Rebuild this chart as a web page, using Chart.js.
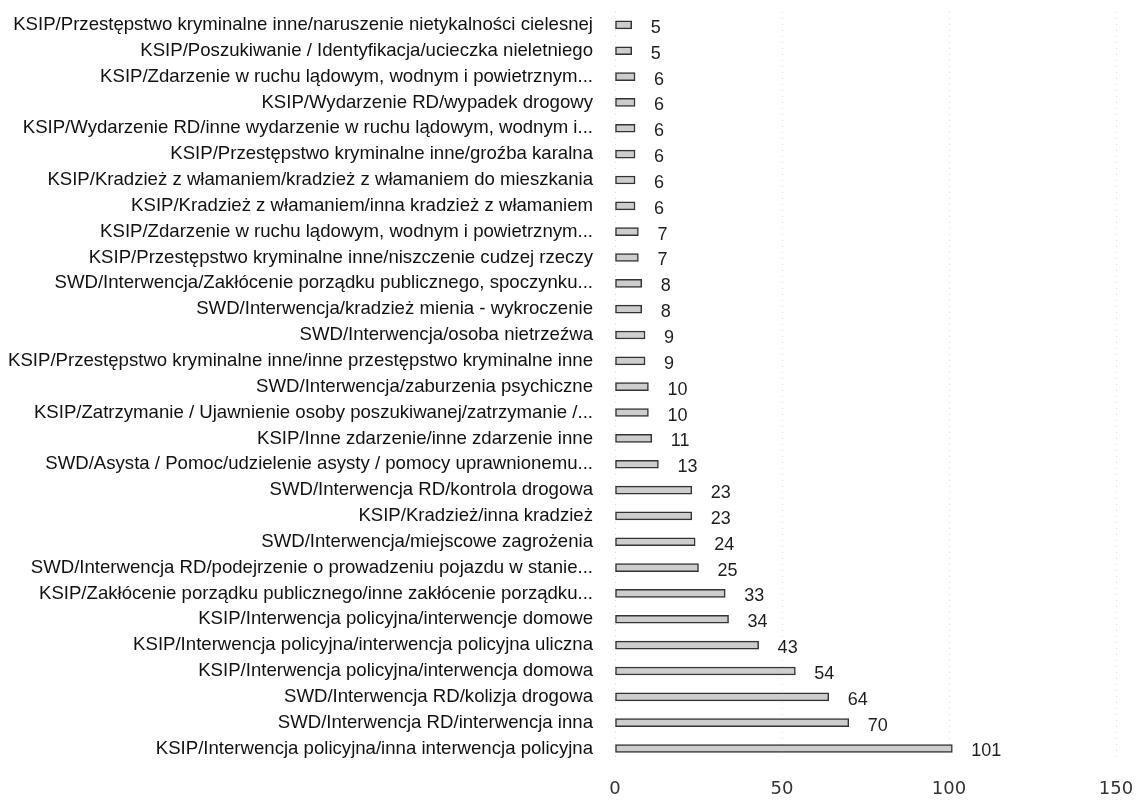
<!DOCTYPE html>
<html>
<head>
<meta charset="utf-8">
<script src="https://cdn.jsdelivr.net/npm/chart.js@4/dist/chart.umd.min.js"></script>
<style>
  html, body { margin: 0; padding: 0; background: #fff; }
  #wrap { width: 1137px; height: 804px; }
</style>
</head>
<body>
<div id="wrap"><canvas id="c" width="1137" height="804"></canvas></div>
<script>
const categories = [
  "KSIP/Przestępstwo kryminalne inne/naruszenie nietykalności cielesnej",
  "KSIP/Poszukiwanie / Identyfikacja/ucieczka nieletniego",
  "KSIP/Zdarzenie w ruchu lądowym, wodnym i powietrznym...",
  "KSIP/Wydarzenie RD/wypadek drogowy",
  "KSIP/Wydarzenie RD/inne wydarzenie w ruchu lądowym, wodnym i...",
  "KSIP/Przestępstwo kryminalne inne/groźba karalna",
  "KSIP/Kradzież z włamaniem/kradzież z włamaniem do mieszkania",
  "KSIP/Kradzież z włamaniem/inna kradzież z włamaniem",
  "KSIP/Zdarzenie w ruchu lądowym, wodnym i powietrznym...",
  "KSIP/Przestępstwo kryminalne inne/niszczenie cudzej rzeczy",
  "SWD/Interwencja/Zakłócenie porządku publicznego, spoczynku...",
  "SWD/Interwencja/kradzież mienia - wykroczenie",
  "SWD/Interwencja/osoba nietrzeźwa",
  "KSIP/Przestępstwo kryminalne inne/inne przestępstwo kryminalne inne",
  "SWD/Interwencja/zaburzenia psychiczne",
  "KSIP/Zatrzymanie / Ujawnienie osoby poszukiwanej/zatrzymanie /...",
  "KSIP/Inne zdarzenie/inne zdarzenie inne",
  "SWD/Asysta / Pomoc/udzielenie asysty / pomocy uprawnionemu...",
  "SWD/Interwencja RD/kontrola drogowa",
  "KSIP/Kradzież/inna kradzież",
  "SWD/Interwencja/miejscowe zagrożenia",
  "SWD/Interwencja RD/podejrzenie o prowadzeniu pojazdu w stanie...",
  "KSIP/Zakłócenie porządku publicznego/inne zakłócenie porządku...",
  "KSIP/Interwencja policyjna/interwencje domowe",
  "KSIP/Interwencja policyjna/interwencja policyjna uliczna",
  "KSIP/Interwencja policyjna/interwencja domowa",
  "SWD/Interwencja RD/kolizja drogowa",
  "SWD/Interwencja RD/interwencja inna",
  "KSIP/Interwencja policyjna/inna interwencja policyjna"
];
const counts = [5, 5, 6, 6, 6, 6, 6, 6, 7, 7, 8, 8, 9, 9, 10, 10, 11, 13, 23, 23, 24, 25, 33, 34, 43, 54, 64, 70, 101];
const xTicks = [0, 50, 100, 150];

const valueLabels = {
  id: 'valueLabels',
  afterDatasetsDraw(chart) {
    const ctx = chart.ctx;
    const meta = chart.getDatasetMeta(0);
    ctx.save();
    ctx.font = '18px "Liberation Sans", Arial, sans-serif';
    ctx.fillStyle = '#1e1e1e';
    ctx.textAlign = 'left';
    ctx.textBaseline = 'middle';
    meta.data.forEach((bar, i) => {
      ctx.fillText(String(counts[i]), bar.x + 19, bar.y + 3);
    });
    ctx.restore();
  }
};

new Chart(document.getElementById('c'), {
  type: 'bar',
  data: {
    labels: categories,
    datasets: [{
      data: counts,
      backgroundColor: '#cdcdcd',
      borderColor: '#333333',
      borderWidth: 1.5,
      borderSkipped: false,
      barThickness: 8
    }]
  },
  options: {
    indexAxis: 'y',
    responsive: false,
    animation: false,
    layout: { padding: { top: 12, right: 21, bottom: -13, left: 0 } },
    plugins: { legend: { display: false }, tooltip: { enabled: false } },
    scales: {
      x: {
        min: 0, max: 150,
        afterBuildTicks(scale) { scale.ticks = xTicks.map(v => ({ value: v })); },
        afterFit(scale) { scale.paddingLeft = 0; scale.paddingRight = 0; },
        grid: { color: 'rgba(0,0,0,0.14)', drawTicks: false },
        border: { display: false, dash: [1, 5] },
        ticks: {
          padding: 17,
          color: '#333333',
          font: { family: '"DejaVu Sans", sans-serif', size: 18 }
        }
      },
      y: {
        afterFit(scale) { scale.width = 615; scale.paddingTop = 0; },
        grid: { display: false },
        border: { display: false },
        ticks: {
          autoSkip: false,
          padding: 14,
          color: '#111',
          font: { family: '"Liberation Sans", Arial, sans-serif', size: 18.6 }
        }
      }
    }
  },
  plugins: [valueLabels]
});
</script>
</body>
</html>
